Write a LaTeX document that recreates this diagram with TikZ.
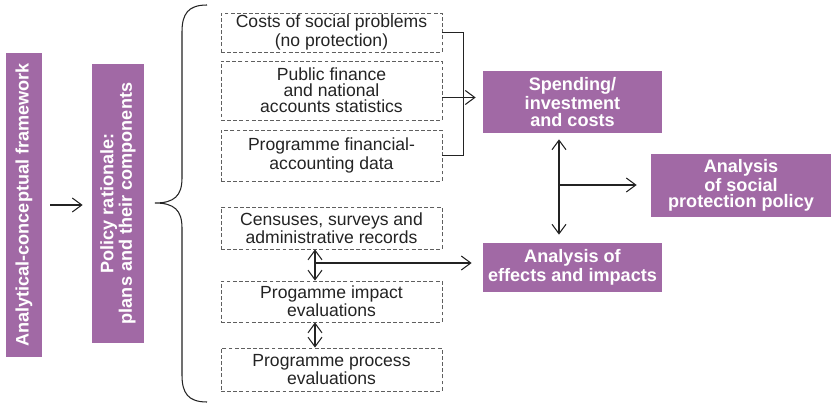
\documentclass[tikz,border=0pt]{standalone}
\usepackage{fontspec}
\setmainfont{Liberation Sans}
\usetikzlibrary{arrows.meta, positioning, calc}
\definecolor{cPurple}{RGB}{161,105,165}
\definecolor{cDash}{RGB}{95,95,95}
\definecolor{cLine}{RGB}{35,35,35}
\tikzset{
	srcbox/.style ={rectangle, draw=cDash, dash pattern=on 2.2pt off 1.3pt, line width=0.5pt, minimum width=4.42cm, align=center, inner sep=1pt, text=cLine, font=\fontsize{10}{9.2}\selectfont},
	result/.style ={rectangle, fill=cPurple, text=white, align=center, inner sep=1pt, font=\bfseries\fontsize{10.3}{9.6}\selectfont},
	sig/.style    ={-{Straight Barb[length=1.9mm, width=2.8mm]}, line width=0.6pt, draw=cLine},
	sigboth/.style={{Straight Barb[length=1.9mm, width=2.8mm]}-{Straight Barb[length=1.9mm, width=2.8mm]}, line width=0.6pt, draw=cLine},
}
\begin{document}
\begin{tikzpicture}[x=0.02cm, y=-0.02cm]
					\useasboundingbox (0,0) rectangle (831,405);
					% left column
					\node[result, rotate=90, minimum width=6.08cm, minimum height=0.72cm] (frame) at (24,205) {Analytical-conceptual framework};
					\node[result, rotate=90, minimum width=5.58cm, minimum height=1.04cm] (rationale) at (118,203.5) {Policy rationale:\\plans and their components};
					\draw[sig, shorten <=0.16cm, shorten >=0.18cm] (frame.south) -- (frame.south -| rationale.north);
					% brace
					\draw[cLine, line width=0.6pt] (207,5) .. controls (188,5) and (182,14) .. (182,32) -- (182,178) .. controls (182,196) and (174,203) .. (155,203) .. controls (174,203) and (182,210) .. (182,228) -- (182,375) .. controls (182,393) and (188,402) .. (207,402);
					% data sources
					\node[srcbox, minimum height=0.78cm] (costs) at (331.5,32.5) {Costs of social problems\\(no protection)};
					\node[srcbox, minimum height=1.18cm] (pubfin) at (331.5,90.5) {Public finance\\and national\\accounts statistics};
					\node[srcbox, minimum height=1.02cm] (progfin) at (331.5,155.5) {Programme financial-\\accounting data};
					\node[srcbox, minimum height=0.84cm] (census) at (331.5,228) {Censuses, surveys and\\administrative records};
					\node[srcbox, minimum height=0.82cm] (impact) at (331.5,301.5) {Progamme impact\\evaluations};
					\node[srcbox, minimum height=0.86cm] (process) at (331.5,369.5) {Programme process\\evaluations};
					% results
					\node[result, minimum width=3.58cm, minimum height=1.24cm] (spend) at (572.5,102) {Spending/\\investment\\and costs};
					\node[result, minimum width=3.6cm, minimum height=1.26cm] (policy) at (741,185.5) {Analysis\\of social\\protection policy};
					\node[result, minimum width=3.58cm, minimum height=0.98cm] (effects) at (572.5,267.5) {Analysis of\\effects and impacts};
					% upper bracket into spending
					\draw[cLine, line width=0.6pt] (costs.east) -- ++(21,0) |- (progfin.east);
					\coordinate (fin) at ($(pubfin.east)+(0,7)$);
					\draw[sig, shorten >=0.14cm] (fin) -- (fin -| spend.west);
					% spending <-> effects, out to policy
					\coordinate (hub) at (559,185);
					\draw[sigboth, shorten <=0.12cm, shorten >=0.16cm] (hub |- spend.south) -- (hub |- effects.north);
					\draw[sig, shorten >=0.28cm] (hub) -- (hub -| policy.west);
					% evaluations into effects
					\coordinate (link) at (315,263);
					\draw[sigboth] (link |- census.south) -- (link |- impact.north);
					\draw[sigboth] (link |- impact.south) -- (link |- process.north);
					\draw[sig, shorten >=0.22cm] (link) -- (link -| effects.west);
				\end{tikzpicture}
\end{document}
